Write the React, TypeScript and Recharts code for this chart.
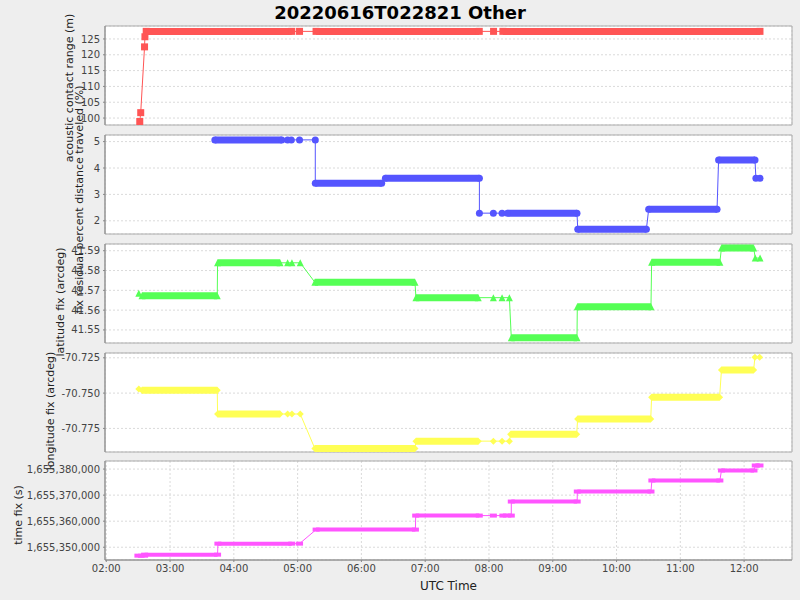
import React from 'react';
import { LineChart, Line, XAxis, YAxis, CartesianGrid, ReferenceArea } from 'recharts';

const TITLE = '20220616T022821 Other';
const X_LABEL = 'UTC Time';

// x axis (hours after 00:00 UTC)
const X_DOMAIN: [number, number] = [1.98, 12.751];
const xTicks = [2, 3, 4, 5, 6, 7, 8, 9, 10, 11, 12];

// acoustic contact range (m)
const rangeStart = [2.525, 2.54, 2.6, 2.606, 2.626, 5.03, 5.289, 8.072, 8.218];
const rangeEnd = [2.525, 2.54, 2.6, 2.606, 4.908, 5.03, 7.848, 8.072, 12.249];
const rangeValue = [98.9, 101.7, 122.5, 125.7, 127.4, 127.4, 127.4, 127.4, 127.4];
const rangeTicks = [100, 105, 110, 115, 120, 125];

// fix residual percent distance traveled (%)
const pctStart = [3.702, 4.843, 4.901, 5.03, 5.277, 5.277, 6.376, 7.85, 8.069, 8.205, 8.29, 9.392, 10.504, 11.6, 12.185, 12.249];
const pctEnd = [4.752, 4.843, 4.901, 5.03, 5.277, 6.318, 7.85, 7.85, 8.069, 8.205, 9.38, 10.468, 11.576, 12.171, 12.185, 12.249];
const pctValue = [5.065, 5.065, 5.065, 5.065, 5.065, 3.42, 3.61, 2.29, 2.29, 2.29, 2.29, 1.68, 2.44, 4.3, 3.61, 3.61];
const pctTicks = [2, 3, 4, 5];

// latitude fix (arcdeg)
const latStart = [2.51, 2.56, 3.745, 4.843, 4.911, 5.041, 5.27, 6.855, 8.069, 8.205, 8.32, 8.35, 9.385, 10.55, 11.645, 12.175, 12.25];
const latEnd = [2.51, 3.74, 4.725, 4.843, 4.911, 5.041, 6.84, 7.832, 8.069, 8.205, 8.32, 9.38, 10.54, 11.62, 12.15, 12.175, 12.25];
const latValue = [41.5685, 41.5673, 41.5839, 41.5839, 41.5839, 41.5839, 41.5741, 41.5663, 41.5663, 41.5663, 41.5663, 41.546, 41.5617, 41.5842, 41.5914, 41.5863, 41.5863];
const latTicks = [41.55, 41.56, 41.57, 41.58, 41.59];

// longitude fix (arcdeg)
const lonStart = [2.51, 2.56, 3.745, 4.843, 4.911, 5.041, 5.27, 6.855, 8.069, 8.205, 8.32, 8.34, 9.39, 10.55, 11.645, 12.17, 12.243];
const lonEnd = [2.51, 3.74, 4.725, 4.843, 4.911, 5.041, 6.84, 7.832, 8.069, 8.205, 8.32, 9.375, 10.536, 11.616, 12.149, 12.17, 12.243];
const lonValue = [-70.7471, -70.748, -70.7648, -70.7648, -70.7648, -70.7648, -70.7892, -70.784, -70.784, -70.784, -70.784, -70.7792, -70.7684, -70.7529, -70.7337, -70.7246, -70.7246];
const lonTicks = [-70.775, -70.75, -70.725];

// time fix (s)
const fixStart = [2.496, 2.601, 3.75, 5.03, 5.29, 6.851, 8.069, 8.218, 8.35, 9.385, 10.554, 11.645, 12.175];
const fixEnd = [2.601, 3.745, 4.908, 5.03, 6.847, 7.848, 8.069, 8.35, 9.383, 10.54, 11.62, 12.155, 12.249];
const fixValue = [1655346770, 1655347150, 1655351380, 1655351380, 1655356770, 1655362150, 1655362150, 1655362150, 1655367540, 1655371380, 1655375620, 1655379460, 1655381380];
const fixTicks = [1655350000, 1655360000, 1655370000, 1655380000];

const FONT = '"DejaVu Sans", "Liberation Sans", sans-serif';

type Row = { t: number; line: number | null; band: number | null };

function buildRows(start: number[], end: number[], value: number[]): Row[] {
  const rows: Row[] = [];
  for (let i = 0; i < start.length; i++) {
    rows.push({ t: start[i], line: value[i], band: value[i] });
    if (end[i] !== start[i]) rows.push({ t: end[i], line: value[i], band: value[i] });
    rows.push({ t: end[i], line: null, band: null });
  }
  return rows;
}

const fmtHour = (h: number) => `${String(h).padStart(2, '0')}:00`;

function makeDot(shape: string, color: string) {
  return (props: any) => {
    const { cx, cy, index, payload } = props;
    const key = `dot-${index}`;
    if (cx == null || cy == null || !payload || payload.band == null || isNaN(cx) || isNaN(cy)) {
      return <g key={key} />;
    }
    const s = 3.5;
    switch (shape) {
      case 'square':
        return <rect key={key} x={cx - s} y={cy - s} width={2 * s} height={2 * s} fill={color} />;
      case 'circle':
        return <circle key={key} cx={cx} cy={cy} r={s} fill={color} />;
      case 'triangle':
        return <polygon key={key} points={`${cx},${cy - s} ${cx + s},${cy + s} ${cx - s},${cy + s}`} fill={color} />;
      case 'diamond':
        return <polygon key={key} points={`${cx},${cy - s} ${cx + s},${cy} ${cx},${cy + s} ${cx - s},${cy}`} fill={color} />;
      default:
        return <rect key={key} x={cx - s} y={cy - 2} width={2 * s} height={4} fill={color} />;
    }
  };
}

type SubProps = {
  rows: Row[];
  color: string;
  shape: string;
  bandWidth: number;
  yDomain: [number, number];
  yTicks: number[];
  yFormat: (v: number) => string;
  label: string;
  labelX: number;
  labelShift: number;
  top: number;
  plotH: number;
  showX: boolean;
};

function SubPlot(p: SubProps) {
  const padT = 5;
  const xH = p.showX ? 40 : 0;
  const padB = p.showX ? 0 : 5;
  const h = padT + p.plotH + xH + padB;
  const labelY = padT + p.plotH / 2 + p.labelShift;
  const yLabel = () => (
    <text
      x={p.labelX}
      y={labelY}
      transform={`rotate(-90 ${p.labelX} ${labelY})`}
      textAnchor="middle"
      dominantBaseline="central"
      fontSize={11}
      fontFamily={FONT}
      fill="#222"
    >
      {p.label}
    </text>
  );
  const xLabel = () => (
    <text x={105 + (800 - 8 - 105) / 2} y={padT + p.plotH + 30} textAnchor="middle" fontSize={12} fontFamily={FONT} fill="#222">
      {X_LABEL}
    </text>
  );
  return (
    <div style={{ position: 'absolute', left: 0, top: p.top - padT }}>
      <LineChart width={800} height={h} data={p.rows} margin={{ top: padT, right: 8, bottom: padB, left: 0 }}>
        <CartesianGrid stroke="#dadada" strokeDasharray="2 2" fill="#ffffff" />
        <ReferenceArea
          x1={X_DOMAIN[0]}
          x2={X_DOMAIN[1]}
          y1={p.yDomain[0]}
          y2={p.yDomain[1]}
          fill="none"
          fillOpacity={0}
          stroke="#ababab"
          strokeWidth={1}
          ifOverflow="visible"
        />
        <XAxis
          dataKey="t"
          type="number"
          domain={X_DOMAIN}
          ticks={xTicks}
          interval={0}
          allowDataOverflow
          height={xH}
          tick={p.showX ? { fontSize: 10, fontFamily: FONT, fill: '#444' } : false}
          tickFormatter={fmtHour}
          axisLine={p.showX ? { stroke: '#888' } : false}
          tickLine={p.showX ? { stroke: '#888' } : false}
          tickSize={2}
          tickMargin={3}
          label={p.showX ? { value: X_LABEL, content: xLabel } : undefined}
        />
        <YAxis
          type="number"
          domain={p.yDomain}
          ticks={p.yTicks}
          interval={0}
          allowDataOverflow
          width={105}
          tick={{ fontSize: 10, fontFamily: FONT, fill: '#444' }}
          tickFormatter={p.yFormat}
          axisLine={{ stroke: '#888' }}
          tickLine={{ stroke: '#888' }}
          tickSize={2}
          tickMargin={3}
          label={{ value: p.label, content: yLabel }}
        />
        <Line
          dataKey="line"
          stroke={p.color}
          strokeWidth={1}
          dot={false}
          activeDot={false}
          connectNulls
          isAnimationActive={false}
        />
        <Line
          dataKey="band"
          stroke={p.color}
          strokeWidth={p.bandWidth}
          dot={makeDot(p.shape, p.color)}
          activeDot={false}
          connectNulls={false}
          isAnimationActive={false}
        />
      </LineChart>
    </div>
  );
}

const PLOT_TOPS = [26, 135, 244, 353, 461];
const PLOT_H = 99;

export default function App() {
  const plain = (v: number) => String(v);
  return (
    <div
      style={{
        position: 'absolute',
        left: 0,
        top: 0,
        width: 800,
        height: 600,
        background: '#eeeeee',
        fontFamily: FONT,
        overflow: 'hidden',
      }}
    >
      <style>{'.recharts-surface{overflow:visible}'}</style>
      <svg width={800} height={26} style={{ position: 'absolute', left: 0, top: 0 }}>
        <text x={400} y={18.5} textAnchor="middle" fontSize={18} fontWeight="bold" fontFamily={FONT} fill="#000">
          {TITLE}
        </text>
      </svg>
      <SubPlot
        rows={buildRows(rangeStart, rangeEnd, rangeValue)}
        color="#FF5555"
        shape="square"
        bandWidth={7}
        yDomain={[97.8, 129.1]}
        yTicks={rangeTicks}
        yFormat={plain}
        label="acoustic contact range (m)"
        labelX={69}
        labelShift={12.5}
        top={PLOT_TOPS[0]}
        plotH={PLOT_H}
        showX={false}
      />
      <SubPlot
        rows={buildRows(pctStart, pctEnd, pctValue)}
        color="#5555FF"
        shape="circle"
        bandWidth={7}
        yDomain={[1.5, 5.25]}
        yTicks={pctTicks}
        yFormat={plain}
        label="fix residual percent distance traveled (%)"
        labelX={79}
        labelShift={15}
        top={PLOT_TOPS[1]}
        plotH={PLOT_H}
        showX={false}
      />
      <SubPlot
        rows={buildRows(latStart, latEnd, latValue)}
        color="#55FF55"
        shape="triangle"
        bandWidth={7}
        yDomain={[41.5434, 41.5934]}
        yTicks={latTicks}
        yFormat={(v: number) => v.toFixed(2)}
        label="latitude fix (arcdeg)"
        labelX={60}
        labelShift={8.5}
        top={PLOT_TOPS[2]}
        plotH={PLOT_H}
        showX={false}
      />
      <SubPlot
        rows={buildRows(lonStart, lonEnd, lonValue)}
        color="#FFFF55"
        shape="diamond"
        bandWidth={7}
        yDomain={[-70.7917, -70.7216]}
        yTicks={lonTicks}
        yFormat={(v: number) => v.toFixed(3)}
        label="longitude fix (arcdeg)"
        labelX={50}
        labelShift={8.5}
        top={PLOT_TOPS[3]}
        plotH={PLOT_H}
        showX={false}
      />
      <SubPlot
        rows={buildRows(fixStart, fixEnd, fixValue)}
        color="#FF55FF"
        shape="hrect"
        bandWidth={4}
        yDomain={[1655345100, 1655383100]}
        yTicks={fixTicks}
        yFormat={(v: number) => v.toLocaleString('en-US')}
        label="time fix (s)"
        labelX={18}
        labelShift={4.5}
        top={PLOT_TOPS[4]}
        plotH={PLOT_H}
        showX={true}
      />
    </div>
  );
}
